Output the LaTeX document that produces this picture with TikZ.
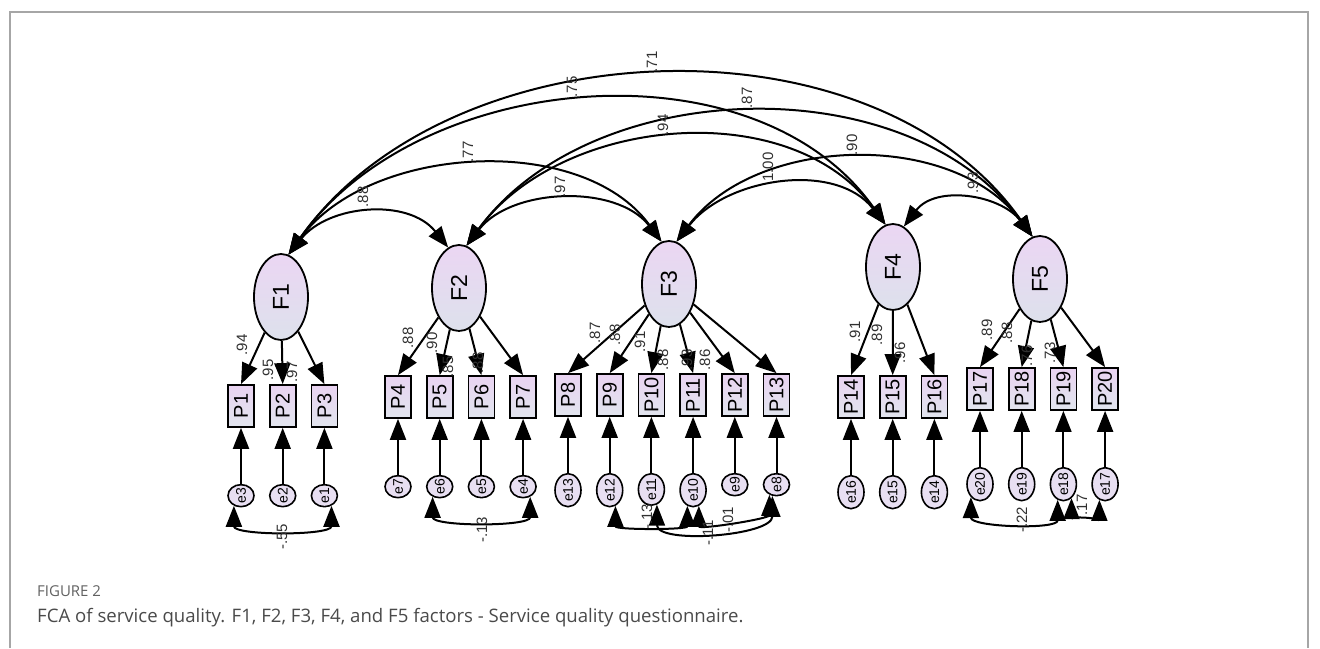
\documentclass[tikz,border=0pt]{standalone}
\usepackage{fontspec}
\usepackage{xcolor}
\usepackage{graphicx}
\usepackage{tikz}
\usetikzlibrary{arrows.meta,positioning,shapes.geometric}
\newfontfamily\amosfont{Liberation Sans}
\newfontfamily\capfont{Open Sans}
\newcommand{\up}[1]{\rotatebox{90}{#1}}
\definecolor{latTop}{HTML}{EBD6F3}
\definecolor{latBot}{HTML}{DDE1EC}
\definecolor{obsTop}{HTML}{E9D3F1}
\definecolor{obsBot}{HTML}{E1E5EE}
\definecolor{errFill}{HTML}{E8DFF2}
\definecolor{capGray}{HTML}{4A4A4A}
\definecolor{numGray}{HTML}{303030}

\begin{document}
\begin{tikzpicture}[x=1pt,y=1pt,
  node distance=56pt and 14pt,
  factor/.style={ellipse,draw,line width=1.8pt,minimum width=54pt,minimum height=86pt,inner sep=0pt,
    top color=latTop,bottom color=latBot,font=\amosfont\fontsize{23}{23}\selectfont},
  item/.style={rectangle,draw,line width=1.7pt,minimum width=26pt,minimum height=42pt,inner sep=0pt,
    top color=obsTop,bottom color=obsBot,font=\amosfont\fontsize{20}{20}\selectfont},
  err/.style={ellipse,draw,line width=1.6pt,minimum width=26pt,minimum height=22pt,inner sep=0pt,
    fill=errFill,font=\amosfont\fontsize{14}{14}\selectfont},
  load/.style={-{Triangle[length=21pt,width=16pt]},line width=2pt},
  cov/.style={{Triangle[length=21pt,width=16pt]}-{Triangle[length=21pt,width=16pt]},line width=2pt},
  num/.style={rotate=90,inner sep=0pt,text=numGray,font=\amosfont\fontsize{15}{15}\selectfont}
]
\useasboundingbox (0,0) rectangle (1320,648);
\draw[gray!70,line width=1.2pt] (10,0) |- (1308,636) -- (1308,0);

\node[factor] (F1) at (281,351) {\up{F1}};
\node[factor] (F2) at (459,360) {\up{F2}};
\node[factor] (F3) at (669,364) {\up{F3}};
\node[factor] (F4) at (893,381) {\up{F4}};
\node[factor] (F5) at (1040,369) {\up{F5}};

\node[item] (P1) at (241,242) {\up{P1}};
\node[item,right=of P1] (P2) {\up{P2}};
\node[item,right=of P2] (P3) {\up{P3}};
\node[item] (P4) at (398,251) {\up{P4}};
\node[item,right=of P4] (P5) {\up{P5}};
\node[item,right=of P5] (P6) {\up{P6}};
\node[item,right=of P6] (P7) {\up{P7}};
\node[item] (P8) at (568,253) {\up{P8}};
\node[item,right=of P8] (P9) {\up{P9}};
\node[item,right=of P9] (P10) {\up{P10}};
\node[item,right=of P10] (P11) {\up{P11}};
\node[item,right=of P11] (P12) {\up{P12}};
\node[item,right=of P12] (P13) {\up{P13}};
\node[item] (P14) at (851,251) {\up{P14}};
\node[item,right=of P14] (P15) {\up{P15}};
\node[item,right=of P15] (P16) {\up{P16}};
\node[item] (P17) at (980,259) {\up{P17}};
\node[item,right=of P17] (P18) {\up{P18}};
\node[item,right=of P18] (P19) {\up{P19}};
\node[item,right=of P19] (P20) {\up{P20}};

\node[err,below=of P1] (e3) {\up{e3}};
\node[err,below=of P2] (e2) {\up{e2}};
\node[err,below=of P3] (e1) {\up{e1}};
\node[err,below=of P4] (e7) {\up{e7}};
\node[err,below=of P5] (e6) {\up{e6}};
\node[err,below=of P6] (e5) {\up{e5}};
\node[err,below=of P7] (e4) {\up{e4}};
\node[err,below=of P8] (e13) {\up{e13}};
\node[err,below=of P9] (e12) {\up{e12}};
\node[err,below=of P10] (e11) {\up{e11}};
\node[err,below=of P11] (e10) {\up{e10}};
\node[err,below=of P12] (e9) {\up{e9}};
\node[err,below=of P13] (e8) {\up{e8}};
\node[err,below=of P14] (e16) {\up{e16}};
\node[err,below=of P15] (e15) {\up{e15}};
\node[err,below=of P16] (e14) {\up{e14}};
\node[err,below=of P17] (e20) {\up{e20}};
\node[err,below=of P18] (e19) {\up{e19}};
\node[err,below=of P19] (e18) {\up{e18}};
\node[err,below=of P20] (e17) {\up{e17}};

\draw[load] (F1) -- (P1.north);
\draw[load] (F1) -- (P2.north);
\draw[load] (F1) -- (P3.north);
\draw[load] (F2) -- (P4.north);
\draw[load] (F2) -- (P5.north);
\draw[load] (F2) -- (P6.north);
\draw[load] (F2) -- (P7.north);
\draw[load] (F3) -- (P8.north);
\draw[load] (F3) -- (P9.north);
\draw[load] (F3) -- (P10.north);
\draw[load] (F3) -- (P11.north);
\draw[load] (F3) -- (P12.north);
\draw[load] (F3) -- (P13.north);
\draw[load] (F4) -- (P14.north);
\draw[load] (F4) -- (P15.north);
\draw[load] (F4) -- (P16.north);
\draw[load] (F5) -- (P17.north);
\draw[load] (F5) -- (P18.north);
\draw[load] (F5) -- (P19.north);
\draw[load] (F5) -- (P20.north);

\draw[load] (e3) -- (P1);
\draw[load] (e2) -- (P2);
\draw[load] (e1) -- (P3);
\draw[load] (e7) -- (P4);
\draw[load] (e6) -- (P5);
\draw[load] (e5) -- (P6);
\draw[load] (e4) -- (P7);
\draw[load] (e13) -- (P8);
\draw[load] (e12) -- (P9);
\draw[load] (e11) -- (P10);
\draw[load] (e10) -- (P11);
\draw[load] (e9) -- (P12);
\draw[load] (e8) -- (P13);
\draw[load] (e16) -- (P14);
\draw[load] (e15) -- (P15);
\draw[load] (e14) -- (P16);
\draw[load] (e20) -- (P17);
\draw[load] (e19) -- (P18);
\draw[load] (e18) -- (P19);
\draw[load] (e17) -- (P20);

\draw[cov] (F1.80) .. controls +(40,50) and +(-40,50) .. (F2.105);
\draw[cov] (F2.80) .. controls +(45,58) and +(-45,58) .. (F3.100);
\draw[cov] (F1.80) .. controls +(80,110) and +(-80,110) .. (F3.100);
\draw[cov] (F3.80) .. controls +(50,64) and +(-50,64) .. (F4.100);
\draw[cov] (F4.75) .. controls +(32,42) and +(-32,42) .. (F5.100);
\draw[cov] (F3.80) .. controls +(80,107) and +(-80,107) .. (F5.100);
\draw[cov] (F2.80) .. controls +(95,130) and +(-95,130) .. (F4.100);
\draw[cov] (F2.80) .. controls +(125,171) and +(-125,171) .. (F5.100);
\draw[cov] (F1.80) .. controls +(130,185) and +(-130,185) .. (F4.100);
\draw[cov] (F1.80) .. controls +(160,227) and +(-160,227) .. (F5.100);

\draw[cov] (e3.235) .. controls +(0,-30) and +(0,-30) .. (e1.305);
\draw[cov] (e6.235) .. controls +(0,-30) and +(0,-30) .. (e4.305);
\draw[cov] (e12.290) .. controls +(0,-24) and +(0,-24) .. (e10.250);
\draw[cov] (e11.290) .. controls +(0,-40) and +(0,-40) .. (e8.250);
\draw[cov] (e10.290) .. controls +(0,-24) and +(0,-24) .. (e8.235);
\draw[cov] (e20.235) .. controls +(0,-30) and +(0,-30) .. (e18.250);
\draw[cov] (e18.300) .. controls +(0,-18) and +(0,-18) .. (e17.250);

\node[num] (r12) at (363,451) {.88};
\node[num] (r23) at (560,461) {.97};
\node[num] (r13) at (468,496) {.77};
\node[num] (r34) at (768,481) {1.00};
\node[num] (r45) at (973,465) {.93};
\node[num] (r35) at (852,503) {.90};
\node[num] (r24) at (663,523) {.94};
\node[num] (r25) at (747,550) {.87};
\node[num] (r14) at (572,561) {.75};
\node[num] (r15) at (652,586) {.71};

\node[num] (w1) at (242,303) {.94};
\node[num] (w2) at (268,278) {.95};
\node[num] (w3) at (292,276) {.97};
\node[num] (w4) at (408,310) {.88};
\node[num] (w5) at (432,305) {.90};
\node[num] (w6) at (448,281) {.85};
\node[num] (w7) at (478,285) {.88};
\node[num] (w8) at (595,315) {.87};
\node[num] (w9) at (615,313) {.88};
\node[num] (w10) at (640,306) {.91};
\node[num] (w11) at (663,288) {.88};
\node[num] (w12) at (687,288) {.93};
\node[num] (w13) at (705,288) {.86};
\node[num] (w14) at (855,316) {.91};
\node[num] (w15) at (877,313) {.89};
\node[num] (w16) at (900,295) {.96};
\node[num] (w17) at (987,318) {.89};
\node[num] (w18) at (1007,315) {.88};
\node[num] (w19) at (1027,292) {.76};
\node[num] (w20) at (1050,295) {.73};

\node[num] (c31) at (282,111) {-.55};
\node[num] (c64) at (482,118) {-.13};
\node[num] (c1210) at (647,131) {-.13};
\node[num] (c118) at (708,115) {-.11};
\node[num] (c108) at (728,128) {-.01};
\node[num] (c2018) at (1022,128) {-.22};
\node[num] (c1817) at (1082,143) {.17};

\node[anchor=base west,inner sep=0pt,text=black!62,font=\capfont\fontsize{15}{15}\selectfont] (fig) at (37,51) {FIGURE 2};
\node[anchor=base west,inner sep=0pt,text=capGray,font=\capfont\fontsize{18.6}{18.6}\selectfont] (cap) at (37,26)
  {FCA of service quality. F1, F2, F3, F4, and F5 factors - Service quality questionnaire.};
\end{tikzpicture}
\end{document}
